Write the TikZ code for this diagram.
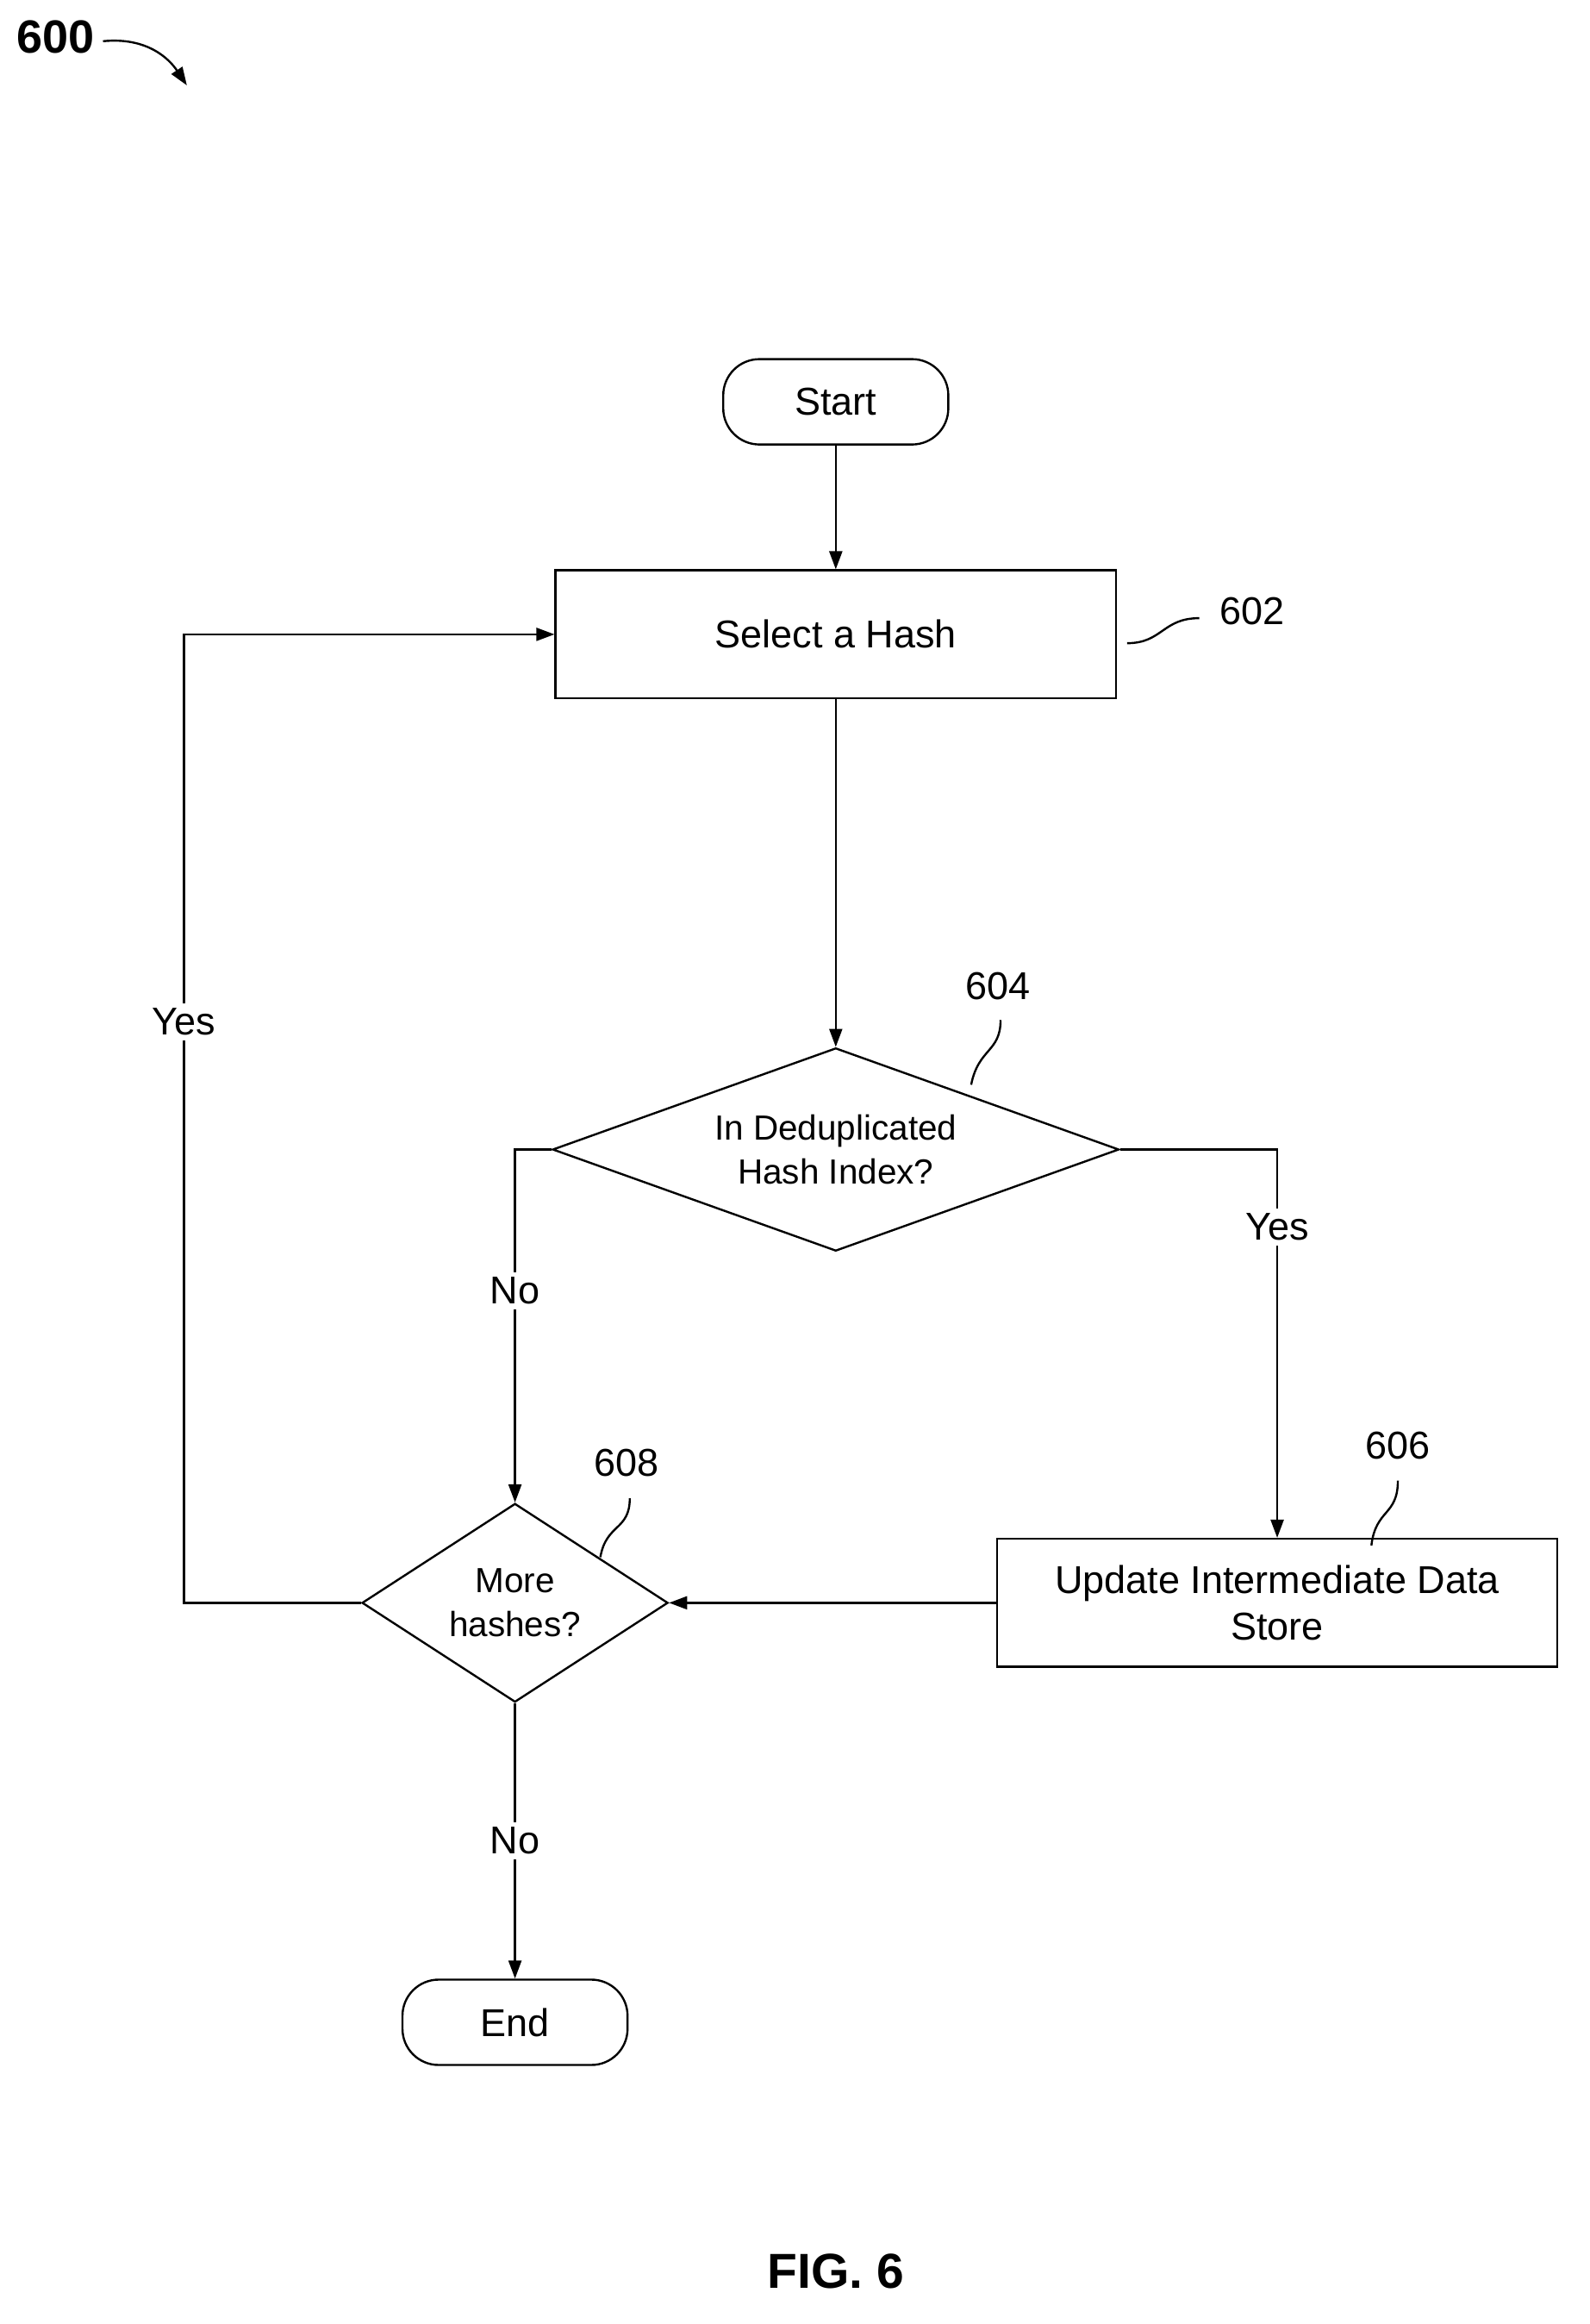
\documentclass[tikz,border=0pt]{standalone}
\usepackage{fontspec}
\setmainfont{Liberation Sans}
\usetikzlibrary{arrows.meta, positioning, shapes.geometric}

\begin{document}
\begin{tikzpicture}[
  x=0.02cm, y=-0.02cm,
  font=\fontsize{15}{18}\selectfont,
  term/.style={draw, thick, rounded corners=14pt, minimum width=3.06cm, minimum height=1.16cm},
  box/.style={draw, thick, rectangle, minimum width=7.62cm, minimum height=1.74cm, align=center},
  dec/.style={draw, thick, diamond, aspect=2.8, inner sep=0pt, align=center, font=\fontsize{13.5}{17}\selectfont},
  arrow/.style={-{Triangle[length=7pt, width=5pt]}, thick},
  lbl/.style={fill=white, inner sep=2pt},
  squig/.style={thick}
]
\useasboundingbox (0,0) rectangle (1080,1579);

% Figure number
\node[font=\bfseries\fontsize{18}{20}\selectfont] (fignum) at (38,25) {600};
\coordinate (fignumTip) at (127,58);
\draw[arrow] (70,28) .. controls (100,25) and (115,40) .. (fignumTip);

% Nodes
\node[term] (Start) at (568,273) {Start};
\node[box] (SelectHash) at (568,431) {Select a Hash};
\node[dec, minimum width=7.7cm, minimum height=2.76cm] (InIndex) at (568,781) {In Deduplicated\\Hash Index?};
\node[box] (Update) at (868,1089) {Update Intermediate Data\\Store};
\node[dec, minimum width=4.16cm, minimum height=2.7cm, aspect=1.5] (MoreHashes) at (350,1089) {More\\hashes?};
\node[term] (End) at (350,1374) {End};

% Reference numbers
\node (n602) at (851,415) {602};
\draw[squig] (766,437) .. controls (790,437) and (790,420) .. (815,420);
\node (n604) at (678,670) {604};
\draw[squig] (660,737) .. controls (665,712) and (680,715) .. (680,693);
\node (n606) at (950,982) {606};
\draw[squig] (932,1050) .. controls (935,1025) and (950,1030) .. (950,1006);
\node (n608) at (426,994) {608};
\draw[squig] (408,1058) .. controls (412,1035) and (428,1040) .. (428,1018);

% Connectors
\draw[arrow] (Start) -- (SelectHash);
\draw[arrow] (SelectHash) -- (InIndex);
\draw[arrow] (InIndex.west) -| node[lbl, pos=0.7] {No} (MoreHashes.north);
\draw[arrow] (InIndex.east) -| node[lbl, pos=0.6] {Yes} (Update.north);
\draw[arrow] (Update) -- (MoreHashes.east);
\draw[arrow] (MoreHashes.west) -- (125,1089) -- node[lbl, pos=0.6] {Yes} (125,431) -- (SelectHash.west);
\draw[arrow] (MoreHashes.south) -- node[lbl] {No} (End);

\node[font=\bfseries\fontsize{19}{22}\selectfont] (figlabel) at (568,1543) {FIG. 6};
\end{tikzpicture}
\end{document}
